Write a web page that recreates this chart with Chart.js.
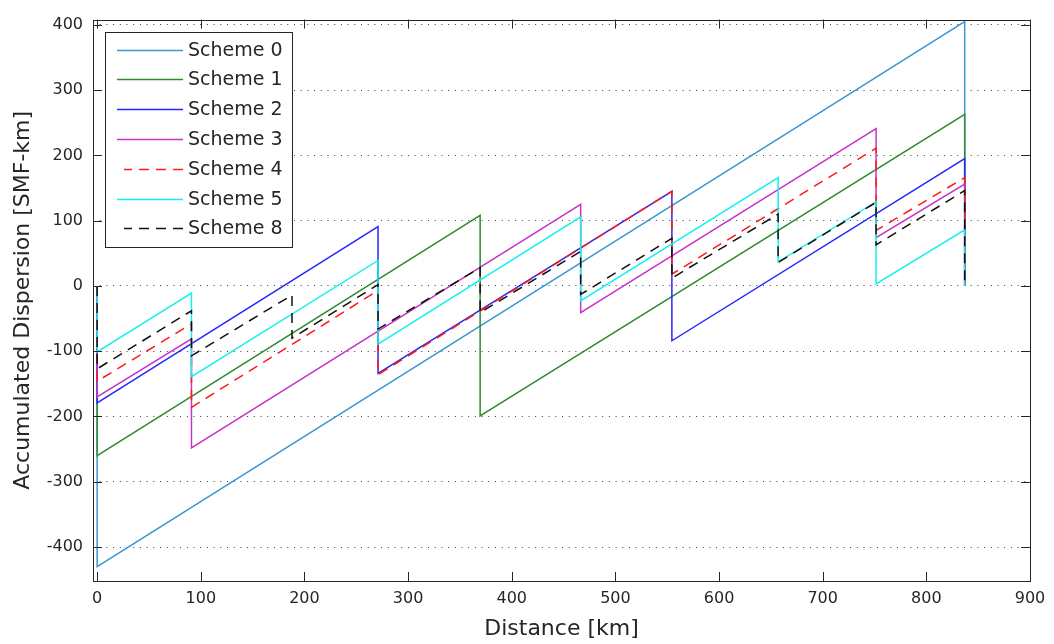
<!DOCTYPE html>
<html lang="en">
<head>
    <meta charset="UTF-8">
    <title>Accumulated Dispersion</title>
    <script src="https://cdn.jsdelivr.net/npm/chart.js@4.4.1/dist/chart.umd.min.js"></script>
    <style>
        html, body { margin: 0; padding: 0; background: #fff; }
        #wrap { width: 1054px; height: 644px; }
    </style>
</head>
<body>
    <div id="wrap"><canvas id="chart" width="1054" height="644"></canvas></div>

    <script>
        // scheme labels and colours
        const schemeNames = ['Scheme 0', 'Scheme 1', 'Scheme 2', 'Scheme 3', 'Scheme 4', 'Scheme 5', 'Scheme 8'];
        const schemeColors = ['#3c96d2', '#2e8b2e', '#2626ff', '#c832c8', '#ff1a1a', '#10f0f0', '#111111'];
        const schemeDashed = [false, false, false, false, true, false, true];

        // breakpoints: distance [km] and accumulated dispersion [SMF-km]
        const dist0 = [0, 0, 837, 837];
        const disp0 = [0, -430, 405, 0];

        const dist1 = [0, 0, 369.5, 369.5, 837, 837];
        const disp1 = [0, -260, 108, -199, 263, 0];

        const dist2 = [0, 0, 271, 271, 554.5, 554.5, 837, 837];
        const disp2 = [0, -179, 91, -134, 145, -84, 195, 0];

        const dist3 = [0, 0, 91, 91, 466.5, 466.5, 751.5, 751.5, 837, 837];
        const disp3 = [0, -170, -81, -248, 125, -41, 241, 74, 156, 0];

        const dist4 = [0, 0, 91, 91, 271, 271, 554.5, 554.5, 751.5, 751.5, 837, 837];
        const disp4 = [0, -146, -58, -186, -7, -136, 145, 18, 211, 85, 166, 0];

        const dist5 = [0, 0, 91, 91, 271, 271, 466.5, 466.5, 657, 657, 751.5, 751.5, 837, 837];
        const disp5 = [0, -101, -11, -139, 39, -89, 106, -23, 166, 37, 129, 3, 86, 0];

        const dist8 = [0, 0, 91, 91, 188, 188, 271, 271, 369.5, 369.5, 466.5, 466.5, 554.5, 554.5, 657, 657, 751.5, 751.5, 837, 837];
        const disp8 = [0, -127, -38, -107, -14, -80, 2, -66, 28, -41, 53, -13, 73, 12, 110, 36, 128, 63, 146, 0];

        const xTicks = [0, 100, 200, 300, 400, 500, 600, 700, 800, 900];
        const yTicks = [-400, -300, -200, -100, 0, 100, 200, 300, 400];

        const distances = [dist0, dist1, dist2, dist3, dist4, dist5, dist8];
        const dispersions = [disp0, disp1, disp2, disp3, disp4, disp5, disp8];

        const AXIS_COLOR = '#262626';
        const TICK_LEN = 9;

        Chart.defaults.font.family = "'DejaVu Sans', sans-serif";
        Chart.defaults.color = AXIS_COLOR;

        const datasets = schemeNames.map((name, i) => ({
            label: name,
            data: distances[i].map((x, k) => ({x: x, y: dispersions[i][k]})),
            borderColor: schemeColors[i],
            backgroundColor: schemeColors[i],
            borderWidth: 1.5,
            borderDash: schemeDashed[i] ? [10, 7] : [],
            showLine: true,
            pointRadius: 0,
            tension: 0,
            order: schemeNames.length - i   // later schemes drawn on top, like matlab
        }));

        // frame with inward ticks on all four sides
        const framePlugin = {
            id: 'frame',
            afterDatasetsDraw(chart) {
                const {ctx, chartArea: a, scales} = chart;
                ctx.save();
                ctx.strokeStyle = AXIS_COLOR;
                ctx.lineWidth = 1;
                ctx.setLineDash([]);
                ctx.strokeRect(Math.round(a.left) + 0.5, Math.round(a.top) + 0.5,
                               Math.round(a.right - a.left), Math.round(a.bottom - a.top));
                ctx.beginPath();
                xTicks.forEach(v => {
                    const px = Math.round(scales.x.getPixelForValue(v)) + 0.5;
                    ctx.moveTo(px, a.bottom); ctx.lineTo(px, a.bottom - TICK_LEN);
                    ctx.moveTo(px, a.top); ctx.lineTo(px, a.top + TICK_LEN);
                });
                yTicks.forEach(v => {
                    const py = Math.round(scales.y.getPixelForValue(v)) + 0.5;
                    ctx.moveTo(a.left, py); ctx.lineTo(a.left + TICK_LEN, py);
                    ctx.moveTo(a.right, py); ctx.lineTo(a.right - TICK_LEN, py);
                });
                ctx.stroke();
                ctx.restore();
            }
        };

        // legend box in the upper left corner of the axes
        const legendPlugin = {
            id: 'boxLegend',
            afterDraw(chart) {
                const ctx = chart.ctx;
                const a = chart.chartArea;
                const left = a.left + 12, top = a.top + 12, w = 187, h = 215;
                const rowH = 29.8;
                ctx.save();
                ctx.fillStyle = '#fff';
                ctx.fillRect(left, top, w, h);
                ctx.strokeStyle = AXIS_COLOR;
                ctx.lineWidth = 1;
                ctx.strokeRect(Math.round(left) + 0.5, Math.round(top) + 0.5, w, h);
                ctx.font = "19px 'DejaVu Sans', sans-serif";
                ctx.textBaseline = 'middle';
                chart.data.datasets.forEach((ds, i) => {
                    const y = Math.round(top + 18 + i * rowH) + 0.5;
                    ctx.strokeStyle = ds.borderColor;
                    ctx.lineWidth = 1.5;
                    ctx.setLineDash(ds.borderDash);
                    ctx.beginPath();
                    if (ds.borderDash.length) {
                        ctx.moveTo(left + 78, y); ctx.lineTo(left + 19, y);
                    } else {
                        ctx.moveTo(left + 12, y); ctx.lineTo(left + 78, y);
                    }
                    ctx.stroke();
                    ctx.setLineDash([]);
                    ctx.fillStyle = AXIS_COLOR;
                    ctx.fillText(ds.label, left + 83, y + 1);
                });
                ctx.restore();
            }
        };

        new Chart(document.getElementById('chart'), {
            type: 'scatter',
            data: { datasets: datasets },
            options: {
                responsive: false,
                animation: false,
                devicePixelRatio: 1,
                layout: { padding: { left: 0, right: 24, top: 13, bottom: 0 } },
                plugins: {
                    legend: { display: false },
                    tooltip: { enabled: false }
                },
                scales: {
                    x: {
                        type: 'linear',
                        min: -4,
                        max: 900,
                        afterBuildTicks: (scale) => { scale.ticks = xTicks.map(v => ({value: v})); },
                        afterFit: (scale) => { scale.height = 63; },
                        grid: { display: false, drawTicks: false },
                        border: { display: false },
                        ticks: { padding: 8, font: { size: 16 }, maxRotation: 0, autoSkip: false },
                        title: {
                            display: true,
                            text: 'Distance [km]',
                            font: { size: 22 },
                            padding: { top: 0, bottom: 2 }
                        }
                    },
                    y: {
                        type: 'linear',
                        min: -452,
                        max: 408,
                        afterBuildTicks: (scale) => { scale.ticks = yTicks.map(v => ({value: v})); },
                        afterFit: (scale) => { scale.width = 93; },
                        grid: { display: true, drawTicks: false, color: '#3a3a3a', lineWidth: 1 },
                        border: { display: false, dash: [1, 5.7] },
                        ticks: { padding: 10, font: { size: 16 }, autoSkip: false },
                        title: {
                            display: true,
                            text: 'Accumulated Dispersion [SMF-km]',
                            font: { size: 22 },
                            padding: { top: 10, bottom: 0 }
                        }
                    }
                }
            },
            plugins: [framePlugin, legendPlugin]
        });
    </script>
</body>
</html>
